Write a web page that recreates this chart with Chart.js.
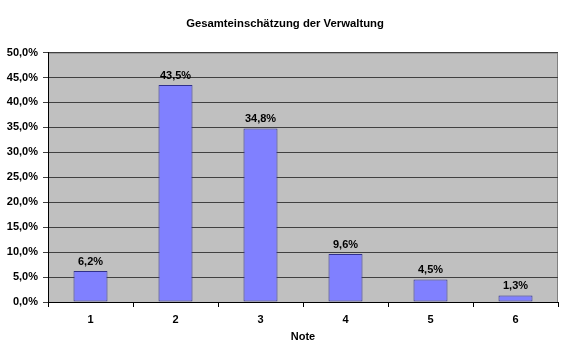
<!DOCTYPE html>
<html lang="de">
<head>
  <meta charset="UTF-8" />
  <title>Gesamteinschätzung der Verwaltung</title>
  <script src="https://cdn.jsdelivr.net/npm/chart.js"></script>
  <style>
    html, body { margin: 0; padding: 0; background: #fff; }
    #wrap { width: 570px; height: 351px; }
  </style>
</head>
<body>
  <div id="wrap"><canvas id="chart" width="570" height="351"></canvas></div>
  <script>
    // data
    const noten = ['1', '2', '3', '4', '5', '6'];
    const anteile = [6.2, 43.5, 34.8, 9.6, 4.5, 1.3];
    const yTicks = [0, 5, 10, 15, 20, 25, 30, 35, 40, 45, 50];

    const fmt = v => v.toFixed(1).replace('.', ',') + '%';
    const font = { family: 'Arial, "Liberation Sans", sans-serif', size: 11, weight: 'bold' };

    // gray plot area behind the bars
    const plotBg = {
      id: 'plotBg',
      beforeDraw(chart) {
        const a = chart.chartArea, c = chart.ctx;
        c.save();
        c.fillStyle = '#c0c0c0';
        c.fillRect(a.left, a.top, a.right - a.left, a.bottom - a.top);
        c.strokeStyle = '#808080';
        c.lineWidth = 1;
        c.strokeRect(a.left + 0.5, a.top + 0.5, a.right - a.left - 1, a.bottom - a.top);
        c.restore();
      }
    };

    // value labels above bars
    const barLabels = {
      id: 'barLabels',
      afterDatasetsDraw(chart) {
        const c = chart.ctx;
        c.save();
        c.font = 'bold 11px Arial, "Liberation Sans", sans-serif';
        c.fillStyle = '#000';
        c.textAlign = 'center';
        c.textBaseline = 'bottom';
        chart.getDatasetMeta(0).data.forEach((bar, i) => {
          c.fillText(fmt(anteile[i]), bar.x, bar.y - 4);
        });
        c.restore();
      }
    };

    new Chart(document.getElementById('chart'), {
      type: 'bar',
      data: {
        labels: noten,
        datasets: [{
          data: anteile,
          backgroundColor: '#8080ff',
          borderColor: '#30308a',
          borderWidth: 1,
          borderSkipped: false,
          barPercentage: 0.4,
          categoryPercentage: 1
        }]
      },
      options: {
        responsive: false,
        animation: false,
        layout: { padding: 0 },
        plugins: {
          legend: { display: false },
          tooltip: { enabled: false },
          title: {
            display: true,
            text: 'Gesamteinschätzung der Verwaltung',
            color: '#000',
            font: { family: font.family, size: 11.3, weight: 'bold' },
            padding: { top: 17, bottom: 22 }
          }
        },
        scales: {
          x: {
            grid: { drawOnChartArea: false, drawTicks: true, tickLength: 5, color: '#000', offset: true },
            border: { color: '#000' },
            ticks: { color: '#000', font: font, padding: 6 },
            title: { display: true, text: 'Note', color: '#000', font: font, padding: { top: 6, bottom: 7 } },
            afterFit(scale) { scale.height = 49; }
          },
          y: {
            min: 0,
            max: 50,
            afterBuildTicks(scale) { scale.ticks = yTicks.map(v => ({ value: v })); },
            grid: { color: '#404040', tickLength: 5 },
            border: { color: '#000' },
            ticks: { color: '#000', font: font, padding: 5, callback: v => fmt(v) },
            afterFit(scale) { scale.width = 48; }
          },
          // empty right margin so the title stays centred on the whole picture
          rand: {
            position: 'right',
            display: true,
            grid: { display: false },
            border: { display: false },
            ticks: { display: false },
            afterFit(scale) { scale.width = 12; }
          }
        }
      },
      plugins: [plotBg, barLabels]
    });
  </script>
</body>
</html>
